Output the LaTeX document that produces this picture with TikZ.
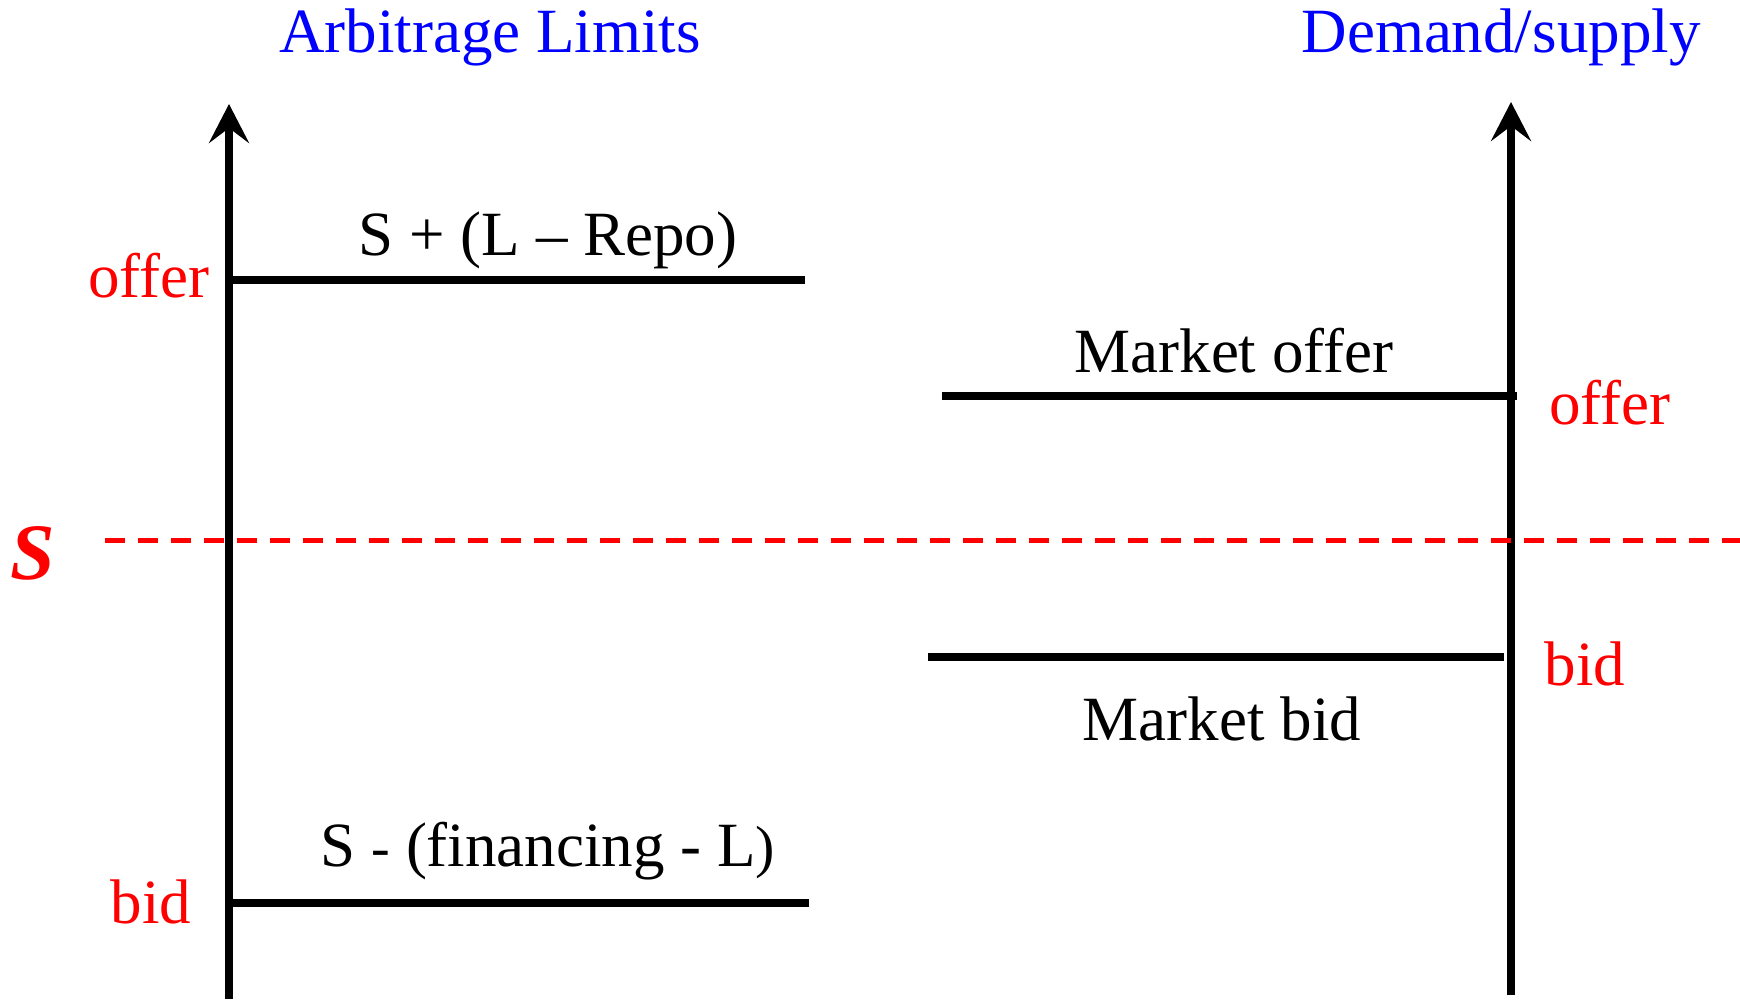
\documentclass[tikz,border=0pt]{standalone}
\usepackage{fontspec}
\setmainfont{Liberation Serif}
\usetikzlibrary{arrows.meta}
\definecolor{titleblue}{RGB}{0,0,255}
\definecolor{markred}{RGB}{255,0,0}
\begin{document}
\begin{tikzpicture}[x=1pt,y=-1pt,
  lbl/.style={inner sep=0pt, anchor=base, font=\fontsize{63}{75}\selectfont},
  title/.style={lbl, text=titleblue},
  side/.style={lbl, text=markred},
  axis/.style={line width=8pt, -{Stealth[length=39pt,width=40pt,inset=15pt]}},
  level/.style={line width=8pt},
  spot/.style={draw=markred, line width=5pt, dash pattern=on 20pt off 13pt}]
\useasboundingbox (0,0) rectangle (1740,1000);

% axes
\coordinate (La0) at (229,999);
\coordinate (La1) at (229,104);
\coordinate (Ra0) at (1511,995);
\coordinate (Ra1) at (1511,102);
\draw[axis] (La0) -- (La1);
\draw[axis] (Ra0) -- (Ra1);

% price levels
\coordinate (upL) at (229,280);  \coordinate (upR) at (805,280);
\coordinate (loL) at (229,903);  \coordinate (loR) at (809,903);
\coordinate (moL) at (942,396);  \coordinate (moR) at (1517,396);
\coordinate (mbL) at (928,657);  \coordinate (mbR) at (1504,657);
\draw[level] (upL) -- (upR);
\draw[level] (loL) -- (loR);
\draw[level] (moL) -- (moR);
\draw[level] (mbL) -- (mbR);

% spot price
\coordinate (sL) at (105,540);
\coordinate (sR) at (1740,540);
\draw[spot] (sL) -- (sR);

% labels
\node[title] (tA) at (490,53) {Arbitrage Limits};
\node[title] (tD) at (1501,53) {Demand/supply};
\node[lbl] (up) at (548,256) {S + (L – Repo)};
\node[lbl] (lo) at (548,866) {S {\fontsize{56}{70}\selectfont-} (financing - L{\fontsize{58}{70}\selectfont)}};
\node[lbl] (mo) at (1234,372) {Market offer};
\node[lbl] (mb) at (1222,740) {Market bid};
\node[side] (offL) at (149,298) {offer};
\node[side] (bidL) at (151,923) {bid};
\node[side] (offR) at (1610,424) {offer};
\node[side] (bidR) at (1585,685) {bid};
\node[inner sep=0pt, anchor=base, text=markred,
      font=\fontsize{80}{90}\selectfont\bfseries\itshape] (spotS) at (33,579) {S};
\end{tikzpicture}
\end{document}
